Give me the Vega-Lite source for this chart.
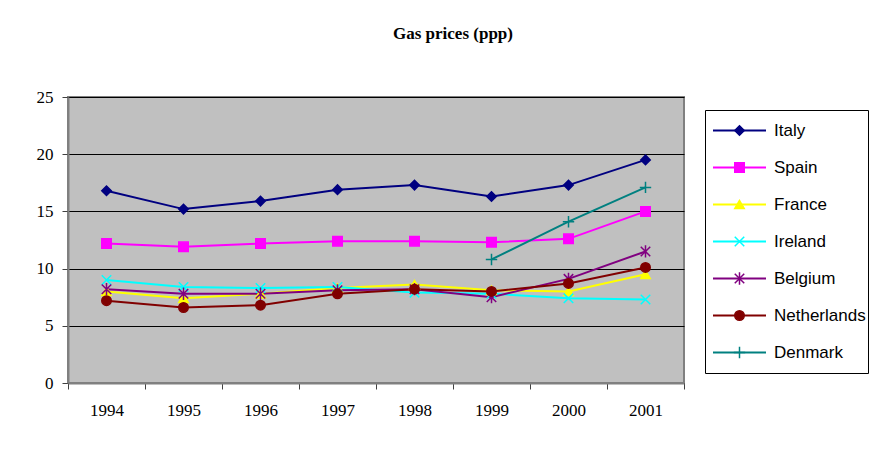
{
  "$schema": "https://vega.github.io/schema/vega-lite/v6.json",
  "width": 616,
  "height": 286,
  "autosize": "none",
  "padding": {"left": 68, "top": 97, "right": 204, "bottom": 70},
  "background": "white",
  "title": {"text": "Gas prices (ppp)", "font": "Liberation Serif", "fontSize": 17, "fontWeight": "bold", "color": "black", "anchor": "middle", "dx": 77, "offset": 45},
  "data": {"values": [
    {"year": "1994", "country": "Italy", "price": 16.8},
    {"year": "1995", "country": "Italy", "price": 15.2},
    {"year": "1996", "country": "Italy", "price": 15.9},
    {"year": "1997", "country": "Italy", "price": 16.9},
    {"year": "1998", "country": "Italy", "price": 17.3},
    {"year": "1999", "country": "Italy", "price": 16.3},
    {"year": "2000", "country": "Italy", "price": 17.3},
    {"year": "2001", "country": "Italy", "price": 19.5},
    {"year": "1994", "country": "Spain", "price": 12.2},
    {"year": "1995", "country": "Spain", "price": 11.9},
    {"year": "1996", "country": "Spain", "price": 12.2},
    {"year": "1997", "country": "Spain", "price": 12.4},
    {"year": "1998", "country": "Spain", "price": 12.4},
    {"year": "1999", "country": "Spain", "price": 12.3},
    {"year": "2000", "country": "Spain", "price": 12.6},
    {"year": "2001", "country": "Spain", "price": 15.0},
    {"year": "1994", "country": "France", "price": 8.0},
    {"year": "1995", "country": "France", "price": 7.4},
    {"year": "1996", "country": "France", "price": 7.8},
    {"year": "1997", "country": "France", "price": 8.3},
    {"year": "1998", "country": "France", "price": 8.6},
    {"year": "1999", "country": "France", "price": 8.1},
    {"year": "2000", "country": "France", "price": 8.0},
    {"year": "2001", "country": "France", "price": 9.5},
    {"year": "1994", "country": "Ireland", "price": 9.0},
    {"year": "1995", "country": "Ireland", "price": 8.4},
    {"year": "1996", "country": "Ireland", "price": 8.3},
    {"year": "1997", "country": "Ireland", "price": 8.4},
    {"year": "1998", "country": "Ireland", "price": 7.9},
    {"year": "1999", "country": "Ireland", "price": 7.8},
    {"year": "2000", "country": "Ireland", "price": 7.4},
    {"year": "2001", "country": "Ireland", "price": 7.3},
    {"year": "1994", "country": "Belgium", "price": 8.2},
    {"year": "1995", "country": "Belgium", "price": 7.8},
    {"year": "1996", "country": "Belgium", "price": 7.8},
    {"year": "1997", "country": "Belgium", "price": 8.1},
    {"year": "1998", "country": "Belgium", "price": 8.2},
    {"year": "1999", "country": "Belgium", "price": 7.5},
    {"year": "2000", "country": "Belgium", "price": 9.1},
    {"year": "2001", "country": "Belgium", "price": 11.5},
    {"year": "1994", "country": "Netherlands", "price": 7.2},
    {"year": "1995", "country": "Netherlands", "price": 6.6},
    {"year": "1996", "country": "Netherlands", "price": 6.8},
    {"year": "1997", "country": "Netherlands", "price": 7.8},
    {"year": "1998", "country": "Netherlands", "price": 8.2},
    {"year": "1999", "country": "Netherlands", "price": 8.0},
    {"year": "2000", "country": "Netherlands", "price": 8.7},
    {"year": "2001", "country": "Netherlands", "price": 10.1},
    {"year": "1999", "country": "Denmark", "price": 10.8},
    {"year": "2000", "country": "Denmark", "price": 14.1},
    {"year": "2001", "country": "Denmark", "price": 17.1}
  ]},
  "encoding": {
    "x": {"field": "year", "type": "ordinal", "title": null,
      "scale": {"type": "band", "paddingInner": 0, "paddingOuter": 0},
      "axis": {"labelAngle": 0, "tickBand": "extent", "tickSize": 6, "labelPadding": 13, "domainColor": "#808080", "domainWidth": 2, "tickColor": "#404040", "grid": false}},
    "y": {"field": "price", "type": "quantitative", "title": null,
      "scale": {"domain": [0, 25], "nice": false},
      "axis": {"values": [0, 5, 10, 15, 20, 25], "tickSize": 6, "labelPadding": 9, "grid": true, "gridColor": "black", "gridWidth": 1, "gridOpacity": 1, "domainColor": "#808080", "domainWidth": 2, "tickColor": "#404040"}}
  },
  "layer": [
    {"mark": {"type": "line", "strokeWidth": 2},
     "encoding": {
       "color": {"field": "country", "type": "nominal",
         "scale": {"domain": ["Italy", "Spain", "France", "Ireland", "Belgium", "Netherlands", "Denmark"],
           "range": ["#000080", "#FF00FF", "#FFFF00", "#00FFFF", "#800080", "#800000", "#008080"]},
         "legend": {
           "orient": "none", "legendX": 637, "legendY": 13, "title": null,
           "strokeColor": "black", "fillColor": "white", "padding": 2,
           "labelFont": "Liberation Sans", "labelFontSize": 17, "labelColor": "black",
           "symbolType": "stroke", "symbolSize": 2809, "clipHeight": 37, "rowPadding": 0,
           "labelOffset": 7, "symbolStrokeWidth": 2, "symbolOffset": 5
         }}
     }},
    {"mark": {"type": "point", "filled": true, "size": 90, "strokeWidth": 1.5, "opacity": 1},
     "encoding": {
       "shape": {"field": "country", "type": "nominal", "legend": null,
         "sort": ["Italy", "Spain", "France", "Ireland", "Belgium", "Netherlands", "Denmark"],
         "scale": {"range": ["diamond", "square", "triangle-up", "M-1,-1L1,1M-1,1L1,-1", "M-1,-1L1,1M-1,1L1,-1M0,-1.3L0,1.3", "circle", "M-1.2,0L1.2,0M0,-1.2L0,1.2"]}},
       "fill": {"field": "country", "type": "nominal",
         "sort": ["Italy", "Spain", "France", "Ireland", "Belgium", "Netherlands", "Denmark"],
         "scale": {"range": ["#000080", "#FF00FF", "#FFFF00", "#00FFFF", "#800080", "#800000", "#008080"]},
         "legend": {
           "orient": "none", "legendX": 637, "legendY": 13, "title": null,
           "strokeColor": null, "fillColor": null, "padding": 2,
           "labelFont": "Liberation Sans", "labelFontSize": 17, "labelOpacity": 0,
           "symbolSize": 90, "clipHeight": 37, "rowPadding": 0,
           "labelOffset": 33, "symbolStrokeWidth": 1.5, "symbolOffset": 24, "symbolOpacity": 1,
           "encode": {"symbols": {"update": {
             "shape": {"signal": "['diamond','square','triangle-up','M-1,-1L1,1M-1,1L1,-1','M-1,-1L1,1M-1,1L1,-1M0,-1.3L0,1.3','circle','M-1.2,0L1.2,0M0,-1.2L0,1.2'][datum.index]"},
             "fill": {"signal": "['#000080','#FF00FF','#FFFF00','#00FFFF','#800080','#800000','#008080'][datum.index]"},
             "stroke": {"signal": "['#000080','#FF00FF','#FFFF00','#00FFFF','#800080','#800000','#008080'][datum.index]"},
             "fillOpacity": {"value": 1},
             "strokeOpacity": {"value": 1},
             "strokeWidth": {"value": 1.5}
           }}}
         }},
       "stroke": {"field": "country", "type": "nominal", "legend": null,
         "sort": ["Italy", "Spain", "France", "Ireland", "Belgium", "Netherlands", "Denmark"],
         "scale": {"range": ["#000080", "#FF00FF", "#FFFF00", "#00FFFF", "#800080", "#800000", "#008080"]}}
     }}
  ],
  "config": {
    "view": {"fill": "#C0C0C0", "stroke": "#808080", "strokeWidth": 2},
    "axis": {"labelFont": "Liberation Serif", "labelFontSize": 17, "labelColor": "black"}
  }
}
